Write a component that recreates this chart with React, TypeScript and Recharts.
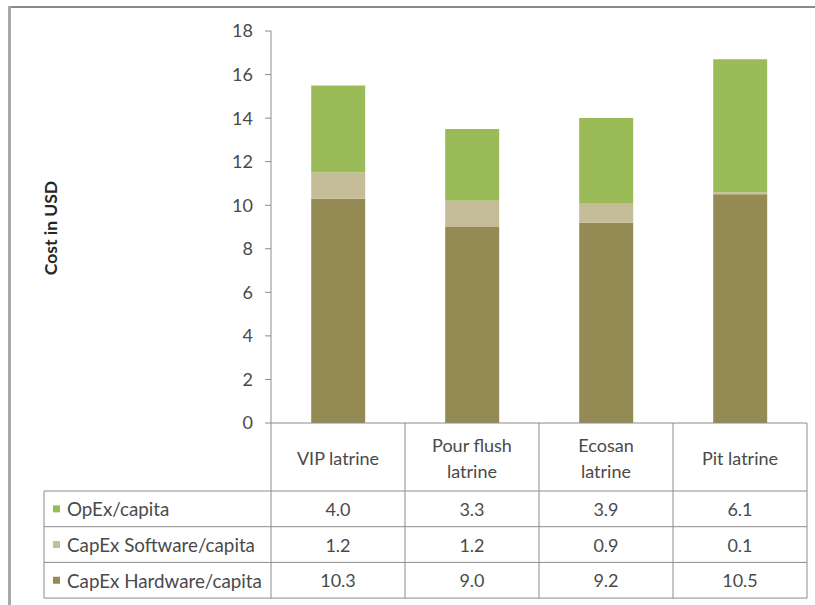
import React from 'react';
import { BarChart, Bar, XAxis, YAxis } from 'recharts';

const categories = ['VIP latrine', 'Pour flush latrine', 'Ecosan latrine', 'Pit latrine'];
const categoryLines = [['VIP latrine'], ['Pour flush', 'latrine'], ['Ecosan', 'latrine'], ['Pit latrine']];
const opex = [4.0, 3.3, 3.9, 6.1];
const capexSoftware = [1.2, 1.2, 0.9, 0.1];
const capexHardware = [10.3, 9.0, 9.2, 10.5];
const yTicks = [0, 2, 4, 6, 8, 10, 12, 14, 16, 18];
const seriesNames = ['OpEx/capita', 'CapEx Software/capita', 'CapEx Hardware/capita'];
const seriesValues = [opex, capexSoftware, capexHardware];
const seriesColors = ['#9BBB59', '#C4BD97', '#948A54'];

const data = categories.map((c, i) => ({
  name: c,
  opex: opex[i],
  software: capexSoftware[i],
  hardware: capexHardware[i],
}));

const FONT = 'Lato, "DejaVu Sans", sans-serif';
const TEXT = '#4a4a4a';
const LINE = '#8c8c8c';

const HEADER_H = 68;
const ROW_H = 35.7;
const LABEL_LEFT = 44;

const TableTick = (props: any) => {
  const { x, y, payload } = props;
  const idx = payload.index;
  const half = payload.offset && payload.offset > 0 ? payload.offset : 67;
  const left = x - half;
  const right = x + half;
  const top = y;
  const headerBottom = top + HEADER_H;
  const bottom = headerBottom + ROW_H * 3;
  const lines = categoryLines[idx] || [payload.value];
  const headerMid = top + HEADER_H / 2 + 1;
  const lh = 26;
  const startY = headerMid - ((lines.length - 1) * lh) / 2;
  const els: any[] = [];
  els.push(<line key="vr" x1={right} y1={top} x2={right} y2={bottom} stroke={LINE} strokeWidth={1} />);
  if (idx === 0) {
    els.push(<line key="vl" x1={left} y1={top} x2={left} y2={bottom} stroke={LINE} strokeWidth={1} />);
  }
  for (let r = 0; r <= 3; r++) {
    const yy = headerBottom + r * ROW_H;
    els.push(<line key={'h' + r} x1={left} y1={yy} x2={right} y2={yy} stroke={LINE} strokeWidth={1} />);
  }
  lines.forEach((ln: string, k: number) => {
    els.push(
      <text key={'t' + k} x={x} y={startY + k * lh} textAnchor="middle" dominantBaseline="central"
        fontFamily={FONT} fontSize={18} fill={TEXT}>{ln}</text>
    );
  });
  seriesValues.forEach((vals, r) => {
    els.push(
      <text key={'v' + r} x={x} y={headerBottom + r * ROW_H + ROW_H / 2} textAnchor="middle" dominantBaseline="central"
        fontFamily={FONT} fontSize={18} fill={TEXT}>{vals[idx].toFixed(1)}</text>
    );
  });
  if (idx === 0) {
    for (let r = 0; r <= 3; r++) {
      const yy = headerBottom + r * ROW_H;
      els.push(<line key={'lh' + r} x1={LABEL_LEFT} y1={yy} x2={left} y2={yy} stroke={LINE} strokeWidth={1} />);
    }
    els.push(<line key="lv" x1={LABEL_LEFT} y1={headerBottom} x2={LABEL_LEFT} y2={bottom} stroke={LINE} strokeWidth={1} />);
    seriesNames.forEach((nm, r) => {
      const cy = headerBottom + r * ROW_H + ROW_H / 2;
      els.push(<rect key={'sq' + r} x={53} y={cy - 3.5} width={7} height={7} fill={seriesColors[r]} />);
      els.push(
        <text key={'ln' + r} x={67} y={cy} dominantBaseline="central" fontFamily={FONT} fontSize={18.8} fill={TEXT}>{nm}</text>
      );
    });
  }
  return <g>{els}</g>;
};

export default function App() {
  return (
    <div style={{ position: 'absolute', left: 0, top: 0, width: 815, height: 605, background: '#fff', overflow: 'hidden' }}>
      <div style={{ position: 'absolute', left: 9, top: 6, width: 806, height: 2, background: '#8a8a8a' }} />
      <div style={{ position: 'absolute', left: 8, top: 6, width: 3, height: 599, background: '#a8a8a8' }} />
      <div style={{ position: 'absolute', left: 0, top: 0 }}>
        <BarChart width={815} height={605} data={data} margin={{ top: 31, right: 8, bottom: 5, left: 0 }} barCategoryGap="30%">
          <XAxis dataKey="name" height={177} tickLine={false} tickSize={0} tickMargin={0}
            axisLine={{ stroke: LINE }} tick={<TableTick />} interval={0} />
          <YAxis width={271} domain={[0, 18]} ticks={yTicks} tickSize={6} tickMargin={12}
            axisLine={{ stroke: LINE }} tickLine={{ stroke: LINE }}
            tick={{ fontFamily: FONT, fontSize: 18, fill: TEXT }}
            label={{
              content: () => (
                <text x={50} y={228} transform="rotate(-90, 50, 228)" textAnchor="middle" dominantBaseline="central"
                  fontFamily={FONT} fontSize={17.5} fontWeight="bold" fill="#262626">Cost in USD</text>
              ),
            }} />
          <Bar dataKey="hardware" stackId="a" fill={seriesColors[2]} isAnimationActive={false} />
          <Bar dataKey="software" stackId="a" fill={seriesColors[1]} isAnimationActive={false} />
          <Bar dataKey="opex" stackId="a" fill={seriesColors[0]} isAnimationActive={false} />
        </BarChart>
      </div>
    </div>
  );
}
